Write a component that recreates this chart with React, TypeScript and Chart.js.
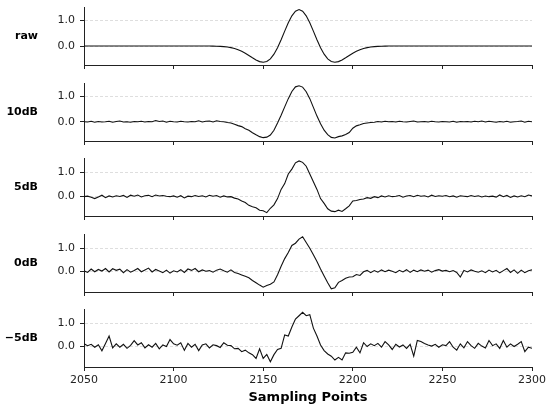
import { useEffect, useRef } from "react";
import { Chart, registerables } from "chart.js";

Chart.register(...registerables);

const samplingPoints = [
  2050, 2052, 2054, 2056, 2058, 2060, 2062, 2064, 2066, 2068, 2070, 2072, 2074, 2076, 2078, 2080, 2082, 2084, 2086, 2088, 2090, 2092, 2094, 2096, 2098,
  2100, 2102, 2104, 2106, 2108, 2110, 2112, 2114, 2116, 2118, 2120, 2122, 2124, 2126, 2128, 2130, 2132, 2134, 2136, 2138, 2140, 2142, 2144, 2146, 2148,
  2150, 2152, 2154, 2156, 2158, 2160, 2162, 2164, 2166, 2168, 2170, 2172, 2174, 2176, 2178, 2180, 2182, 2184, 2186, 2188, 2190, 2192, 2194, 2196, 2198,
  2200, 2202, 2204, 2206, 2208, 2210, 2212, 2214, 2216, 2218, 2220, 2222, 2224, 2226, 2228, 2230, 2232, 2234, 2236, 2238, 2240, 2242, 2244, 2246, 2248,
  2250, 2252, 2254, 2256, 2258, 2260, 2262, 2264, 2266, 2268, 2270, 2272, 2274, 2276, 2278, 2280, 2282, 2284, 2286, 2288, 2290, 2292, 2294, 2296, 2298,
  2300,
];

const rawSignal = [
  0, 0, 0, 0, 0, 0, 0, 0, 0, 0, 0, 0, 0, 0, 0, 0, 0, 0, 0, 0, 0, 0, 0, 0, 0,
  0, 0, 0, 0, 0, 0, 0, 0, 0, 0, -0.002, -0.004, -0.008, -0.013, -0.023, -0.038, -0.061, -0.095, -0.141, -0.201, -0.276, -0.362, -0.452, -0.536, -0.6,
  -0.625, -0.594, -0.493, -0.315, -0.065, 0.241, 0.573, 0.893, 1.16, 1.337, 1.4, 1.337, 1.16, 0.893, 0.573, 0.241, -0.065, -0.315, -0.493, -0.594, -0.625, -0.6, -0.536, -0.452, -0.362,
  -0.276, -0.201, -0.141, -0.095, -0.061, -0.038, -0.023, -0.013, -0.008, -0.004, -0.002, 0, 0, 0, 0, 0, 0, 0, 0, 0, 0, 0, 0, 0, 0,
  0, 0, 0, 0, 0, 0, 0, 0, 0, 0, 0, 0, 0, 0, 0, 0, 0, 0, 0, 0, 0, 0, 0, 0, 0,
  0,
];

const snr10dB = [
  0.0, -0.01, 0.02, -0.02, 0.01, -0.01, 0.0, 0.02, -0.02, 0.01, 0.03, -0.01, 0.0, -0.02, 0.01, 0.0, 0.02, -0.01, 0.01, 0.0, 0.05, 0.01, 0.03, -0.02, 0.02,
  0.0, -0.01, 0.02, 0.0, -0.01, 0.01, 0.0, 0.04, -0.01, 0.02, 0.03, -0.01, 0.04, 0.01, 0.0, -0.03, -0.05, -0.1, -0.15, -0.19, -0.27, -0.33, -0.43, -0.51, -0.58,
  -0.62, -0.6, -0.52, -0.33, -0.05, 0.25, 0.58, 0.9, 1.18, 1.36, 1.4, 1.35, 1.17, 0.9, 0.56, 0.22, -0.08, -0.33, -0.5, -0.61, -0.63, -0.58, -0.55, -0.5, -0.42,
  -0.25, -0.16, -0.12, -0.07, -0.05, -0.03, -0.02, 0.01, -0.01, 0.02, 0.0, 0.01, -0.01, 0.02, 0.0, -0.01, 0.01, 0.03, -0.01, 0.0, 0.01, -0.01, 0.02, 0.0, -0.01,
  0.01, 0.0, -0.01, 0.02, -0.02, 0.01, 0.0, 0.01, -0.01, 0.02, 0.0, 0.03, -0.01, 0.02, 0.0, -0.02, 0.01, -0.01, 0.02, -0.02, 0.0, 0.01, 0.03, -0.02, 0.02,
  0.0,
];

const snr5dB = [
  -0.02, 0.0, -0.04, -0.1, -0.03, 0.04, -0.06, 0.01, -0.03, 0.02, -0.01, 0.03, -0.05, 0.04, 0.0, 0.05, -0.03, 0.02, 0.04, -0.02, 0.05, 0.01, 0.03, 0.0, -0.02,
  0.01, -0.04, 0.02, -0.07, 0.0, -0.02, 0.03, -0.01, 0.02, -0.03, 0.04, 0.0, 0.03, -0.04, 0.01, -0.03, -0.02, -0.08, -0.12, -0.2, -0.26, -0.38, -0.44, -0.48, -0.58,
  -0.6, -0.68, -0.5, -0.36, -0.1, 0.28, 0.52, 0.92, 1.12, 1.38, 1.46, 1.4, 1.24, 0.92, 0.6, 0.28, -0.1, -0.3, -0.52, -0.62, -0.64, -0.58, -0.63, -0.52, -0.4,
  -0.2, -0.18, -0.14, -0.12, -0.06, -0.09, -0.02, -0.06, 0.01, -0.03, 0.02, -0.02, 0.0, 0.03, -0.04, 0.01, 0.03, -0.02, 0.04, 0.0, 0.02, -0.03, 0.04, -0.01, 0.02,
  0.0, 0.03, -0.02, 0.01, -0.04, 0.02, 0.0, -0.02, 0.03, -0.01, 0.02, -0.03, 0.01, -0.02, 0.0, -0.04, 0.05, -0.02, 0.03, -0.05, 0.01, -0.03, 0.02, -0.02, 0.05,
  0.01,
];

const snr0dB = [
  0.02, -0.05, 0.1, -0.02, 0.08, 0.01, 0.12, -0.03, 0.11, 0.04, 0.09, -0.06, 0.07, -0.04, 0.03, 0.12, -0.02, 0.06, 0.14, -0.03, 0.08, 0.01, -0.06, 0.05, -0.08,
  0.02, -0.03, 0.07, -0.05, 0.1, 0.04, 0.12, -0.02, 0.06, 0.0, 0.03, -0.04, 0.05, 0.1, 0.02, -0.04, 0.06, -0.05, -0.1, -0.16, -0.22, -0.28, -0.4, -0.5, -0.6,
  -0.69, -0.62, -0.56, -0.46, -0.15, 0.22, 0.55, 0.82, 1.12, 1.22, 1.4, 1.5, 1.25, 1.0, 0.72, 0.42, 0.1, -0.2, -0.5, -0.76, -0.72, -0.48, -0.4, -0.3, -0.25,
  -0.24, -0.14, -0.18, -0.02, 0.04, -0.06, 0.03, -0.04, 0.06, -0.02, 0.05, 0.0, -0.06, 0.04, -0.03, 0.07, -0.05, 0.05, -0.02, 0.06, 0.0, 0.05, -0.04, 0.03, 0.07,
  0.01, 0.04, -0.02, 0.03, -0.05, -0.25, 0.04, -0.03, 0.06, 0.0, -0.04, 0.02, -0.06, 0.05, -0.03, 0.04, -0.07, 0.03, 0.12, -0.05, 0.06, -0.09, 0.05, -0.06, 0.02,
  0.06,
];

const snrMinus5dB = [
  0.1, 0.02, 0.08, -0.05, 0.06, -0.21, 0.12, 0.45, -0.08, 0.1, -0.05, 0.08, -0.1, 0.03, 0.24, 0.05, 0.15, -0.08, 0.06, -0.05, 0.12, -0.12, 0.05, -0.02, 0.29,
  0.1, 0.04, 0.15, -0.19, 0.12, -0.05, 0.08, -0.2, 0.05, 0.1, -0.08, 0.06, 0.02, -0.06, 0.15, 0.04, 0.02, -0.12, -0.1, -0.25, -0.18, -0.3, -0.38, -0.55, -0.12,
  -0.55, -0.37, -0.7, -0.38, -0.15, -0.1, 0.5, 0.45, 0.85, 1.2, 1.35, 1.5, 1.35, 1.4, 0.8, 0.45, 0.05, -0.2, -0.35, -0.45, -0.62, -0.5, -0.62, -0.3, -0.32,
  -0.28, -0.05, -0.3, 0.15, -0.02, 0.1, 0.02, 0.12, -0.05, 0.2, 0.05, -0.15, 0.08, -0.04, 0.05, -0.1, 0.08, -0.45, 0.25, 0.2, 0.12, 0.05, 0.0, 0.08, -0.05,
  0.06, 0.02, 0.2, -0.05, -0.18, 0.1, -0.08, 0.2, 0.02, -0.1, 0.12, 0.0, -0.08, 0.25, 0.02, 0.1, -0.1, 0.25, -0.05, 0.1, -0.02, 0.08, 0.2, -0.25, -0.05,
  -0.1,
];

const panelLabels = ["raw", "10dB", "5dB", "0dB", "\u22125dB"];
const panelSeries = [rawSignal, snr10dB, snr5dB, snr0dB, snrMinus5dB];
const xTickValues = [2050, 2100, 2150, 2200, 2250, 2300];
const yTickValues = [0, 1];
const xAxisTitle = "Sampling Points";

const FONT = '"DejaVu Sans", sans-serif';

type PanelProps = {
  values: number[];
  label: string;
  yMin: number;
  yMax: number;
  top: number;
  last: boolean;
};

function Panel({ values, label, yMin, yMax, top, last }: PanelProps) {
  const ref = useRef<HTMLCanvasElement | null>(null);
  const padTop = 14;
  const plotH = 58;
  const xAxisH = last ? 38 : 14;
  const height = padTop + plotH + xAxisH;

  useEffect(() => {
    if (!ref.current) return;
    const labelPlugin = {
      id: "panelLabel",
      afterDraw(chart: any) {
        const { ctx, chartArea } = chart;
        ctx.save();
        ctx.font = `bold 11px ${FONT}`;
        ctx.fillStyle = "#000";
        ctx.textAlign = "right";
        ctx.textBaseline = "middle";
        ctx.fillText(label, 38, (chartArea.top + chartArea.bottom) / 2);
        ctx.restore();
      },
    };
    const chart = new Chart(ref.current, {
      type: "line",
      data: {
        datasets: [
          {
            data: samplingPoints.map((x, i) => ({ x, y: values[i] })),
            borderColor: "#111",
            borderWidth: 1.1,
            pointRadius: 0,
            tension: 0,
            fill: false,
          },
        ],
      },
      options: {
        animation: false,
        responsive: false,
        maintainAspectRatio: false,
        layout: { padding: { top: padTop, left: 0, right: 18, bottom: 0 } },
        plugins: { legend: { display: false }, tooltip: { enabled: false } },
        scales: {
          x: {
            type: "linear",
            min: 2050,
            max: 2300,
            afterBuildTicks: (scale: any) => {
              scale.ticks = xTickValues.map((v) => ({ value: v }));
            },
            afterFit: (scale: any) => {
              scale.height = xAxisH;
            },
            ticks: {
              display: last,
              padding: 3,
              color: "#222",
              font: { family: FONT, size: 11 },
              maxRotation: 0,
              callback: (v: any) => String(v),
            },
            grid: {
              display: true,
              drawOnChartArea: false,
              drawTicks: true,
              tickLength: 4,
              tickColor: "#222",
              tickWidth: 1,
            },
            border: { display: true, color: "#222", width: 1 },
            title: {
              display: last,
              text: xAxisTitle,
              color: "#000",
              font: { family: FONT, size: 13, weight: "bold" },
              padding: { top: 0, bottom: 0 },
            },
          },
          y: {
            type: "linear",
            min: yMin,
            max: yMax,
            afterBuildTicks: (scale: any) => {
              scale.ticks = yTickValues.map((v) => ({ value: v }));
            },
            afterFit: (scale: any) => {
              scale.width = 84;
              scale.paddingTop = 0;
              scale.paddingBottom = 0;
            },
            ticks: {
              padding: 5,
              color: "#222",
              font: { family: FONT, size: 11 },
              callback: (v: any) => Number(v).toFixed(1),
            },
            grid: {
              display: true,
              drawOnChartArea: true,
              drawTicks: true,
              tickLength: 4,
              color: "#d6d6d6",
              lineWidth: 0.8,
              tickColor: "#222",
              tickWidth: 1,
            },
            border: { display: true, color: "#222", width: 1, dash: [3, 2] },
          },
        },
      },
      plugins: [labelPlugin],
    } as any);
    return () => chart.destroy();
  }, [values, label, yMin, yMax, last]);

  return (
    <canvas
      ref={ref}
      width={550}
      height={height}
      style={{ position: "absolute", left: 0, top: top - padTop, width: 550, height }}
    />
  );
}

export default function App() {
  const tops = [7, 83, 158, 234, 309];
  const ranges = [
    [-0.73, 1.5],
    [-0.75, 1.51],
    [-0.82, 1.58],
    [-0.9, 1.62],
    [-0.93, 1.65],
  ];
  return (
    <div style={{ position: "absolute", left: 0, top: 0, width: 550, height: 410, background: "#fff", overflow: "hidden" }}>
      {panelSeries.map((vals, i) => (
        <Panel
          key={i}
          values={vals}
          label={panelLabels[i]}
          yMin={ranges[i][0]}
          yMax={ranges[i][1]}
          top={tops[i]}
          last={i === panelSeries.length - 1}
        />
      ))}
    </div>
  );
}
